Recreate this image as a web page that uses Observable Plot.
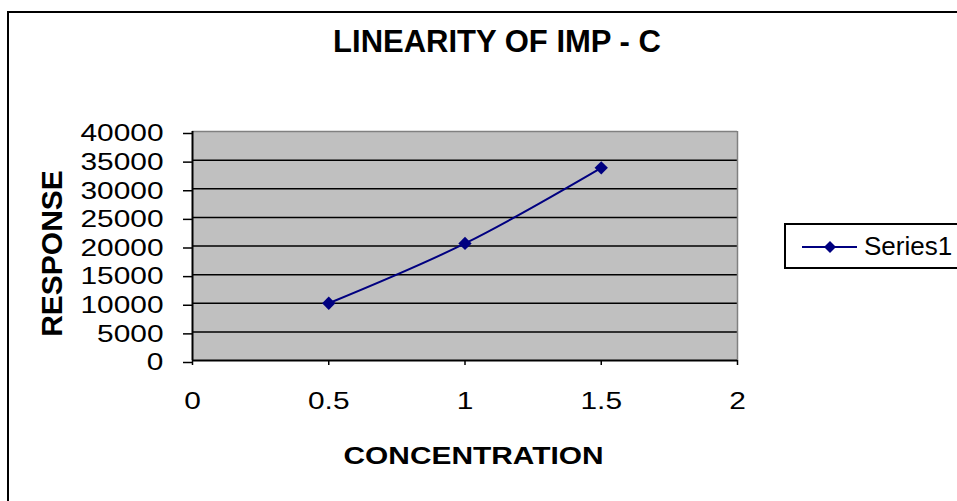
<!DOCTYPE html>
<html>
<head>
<meta charset="utf-8">
<script src="https://cdn.jsdelivr.net/npm/d3@7"></script>
<script src="https://cdn.jsdelivr.net/npm/@observablehq/plot@0.6"></script>
<style>
  html, body { margin: 0; padding: 0; background: #fff; }
  #wrap { position: relative; width: 957px; height: 501px; overflow: hidden; font-family: "Liberation Sans", Arial, sans-serif; }
  #border { position: absolute; left: 7px; top: 11px; width: 1000px; height: 600px; border: 2px solid #000; box-sizing: border-box; pointer-events: none; }
  #chart { position: absolute; left: 0; top: 0; }
  #title { position: absolute; left: 497px; top: 24px; transform: translateX(-50%) scaleX(1.0); white-space: nowrap; font-weight: bold; font-size: 31px; line-height: 36px; color: #000; }
  #legend { position: absolute; left: 784px; top: 223px; width: 300px; height: 46px; border: 2px solid #000; box-sizing: border-box; background: #fff; }
  #legend svg { position: absolute; left: 0; top: 0; }
  #legend span { position: absolute; left: 78px; top: 6px; font-size: 26px; line-height: 30px; color: #000; white-space: nowrap; }
</style>
</head>
<body>
<div id="wrap">
  <div id="chart"></div>
  <div id="border"></div>
  <div id="title">LINEARITY OF IMP - C</div>
  <div id="legend">
    <svg width="80" height="46"><line x1="16" y1="22" x2="71" y2="22" stroke="#000080" stroke-width="2"/><path d="M44,16 L50,22 L44,28 L38,22 Z" fill="#000080"/></svg>
    <span id="legendText"></span>
  </div>
</div>
<script>
// ---- data ----
const seriesName = "Series1";
const concentration = [0.5, 1, 1.5];
const response = [10000, 20450, 33650];
const xTicks = [0, 0.5, 1, 1.5, 2];
const yTicks = [0, 5000, 10000, 15000, 20000, 25000, 30000, 35000, 40000];
const xTitle = "CONCENTRATION";
const yTitle = "RESPONSE";

const data = concentration.map((c, i) => ({x: c, y: response[i]}));
const gridTicks = yTicks.filter(t => t > 0 && t < 40000);

document.getElementById("legendText").textContent = seriesName;

const plot = Plot.plot({
  width: 957,
  height: 501,
  marginLeft: 192,
  marginRight: 220,
  marginTop: 131,
  marginBottom: 141,
  style: { fontFamily: "'Liberation Sans', Arial, sans-serif", fontSize: "24.5px", background: "transparent", color: "#000" },
  x: { domain: [0, 2] },
  y: { domain: [0, 40000] },
  marks: [
    Plot.frame({ fill: "#c0c0c0", stroke: null }),
    Plot.ruleY(gridTicks, { stroke: "#000", strokeWidth: 1.5 }),
    Plot.ruleY([40000], { stroke: "#808080", strokeWidth: 1.5 }),
    Plot.ruleX([2], { stroke: "#808080", strokeWidth: 1.5 }),
    Plot.axisY({ ticks: yTicks, tickSize: 9, tickPadding: 20, tickFormat: d => String(d), label: null, stroke: "#000", strokeWidth: 1.5, dy: 2 }),
    Plot.axisX({ ticks: xTicks, tickSize: 5, tickPadding: 26, tickFormat: d => String(d), label: null, stroke: "#000", strokeWidth: 1.5 }),
    Plot.ruleX([0], { stroke: "#000", strokeWidth: 2 }),
    Plot.ruleY([0], { stroke: "#000", strokeWidth: 2 }),
    Plot.line(data, { x: "x", y: "y", curve: "catmull-rom", stroke: "#000080", strokeWidth: 2 }),
    Plot.dot(data, { x: "x", y: "y", symbol: "diamond2", r: 6, fill: "#000080", stroke: null })
  ]
});
document.getElementById("chart").appendChild(plot);

// stretch tick labels horizontally as in the reference
const svg = d3.select(plot.tagName.toLowerCase() === "svg" ? plot : plot.querySelector("svg"));
svg.selectAll('g[aria-label="y-axis tick label"] text, g[aria-label="x-axis tick label"] text')
  .attr("transform", function() { return (this.getAttribute("transform") || "") + " scale(1.22,1)"; });

// axis titles
svg.append("text")
  .attr("transform", "translate(473.5,463.5) scale(1.22,1)")
  .attr("text-anchor", "middle")
  .attr("font-weight", "bold")
  .attr("font-size", 24.5)
  .attr("fill", "#000")
  .text(xTitle);
svg.append("text")
  .attr("transform", "translate(62,253.5) rotate(-90)")
  .attr("text-anchor", "middle")
  .attr("font-weight", "bold")
  .attr("font-size", 30)
  .attr("fill", "#000")
  .text(yTitle);
</script>
</body>
</html>
